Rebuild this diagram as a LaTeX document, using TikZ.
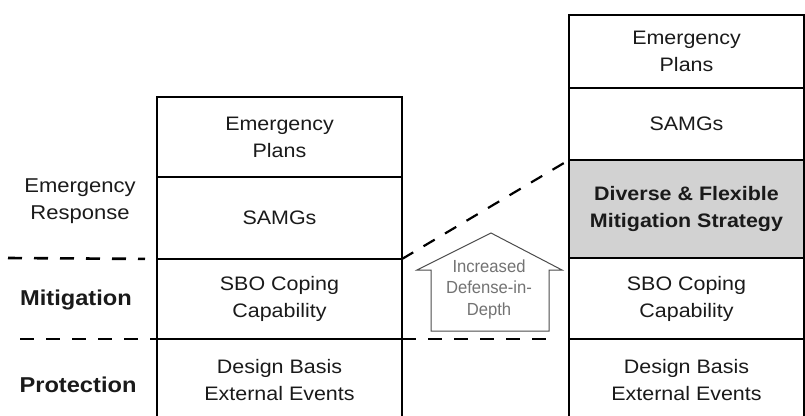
\documentclass[tikz,border=0pt]{standalone}
\usepackage{fontspec}
\setmainfont{Liberation Sans}[FakeStretch=1.1]
\newfontfamily\housefont{Liberation Sans}[FakeStretch=0.95]
\definecolor{inkc}{HTML}{1A1A1A}
\definecolor{shade}{HTML}{D2D2D2}
\begin{document}
\begin{tikzpicture}[x=1pt,y=-1pt,
  layer/.style={draw=black, line width=1.1pt, inner sep=0pt, outer sep=0pt,
    align=center, text=inkc, font=\fontsize{19.5}{27}\selectfont},
  lcol/.style={layer, minimum width=245pt},
  rcol/.style={layer, minimum width=235pt},
  tier/.style={align=center, text=inkc},
  sepline/.style={draw=black, line width=2.6pt, dash pattern=on 14pt off 12pt},
  slantline/.style={draw=black, line width=2.2pt, dash pattern=on 13pt off 12pt},
  house/.style={draw=black!70, line width=1pt, fill=white}]
\useasboundingbox (0,0) rectangle (805,415);
\clip (0,0) rectangle (805,415);

% left column: current layers
\node[lcol, minimum height=80pt] (lplans)  at (279.5,137) {Emergency\\Plans};
\node[lcol, minimum height=82pt] (lsamg)   at (279.5,218) {SAMGs};
\node[lcol, minimum height=80pt] (lsbo)    at (279.5,299) {SBO Coping\\Capability};
\node[lcol, minimum height=82pt] (ldesign) at (279.5,380) {Design Basis\\External Events};

% right column: layers with the added strategy
\node[rcol, minimum height=73pt] (rplans)   at (686.5,51.5) {Emergency\\Plans};
\node[rcol, minimum height=72pt] (rsamg)    at (686.5,124) {SAMGs};
\node[rcol, minimum height=98pt, fill=shade, font=\fontsize{19.5}{27}\selectfont\bfseries]
      (rdiverse) at (686.5,209) {Diverse \& Flexible\\Mitigation Strategy};
\node[rcol, minimum height=81pt] (rsbo)     at (686.5,298.5) {SBO Coping\\Capability};
\node[rcol, minimum height=82pt] (rdesign)  at (686.5,380) {Design Basis\\External Events};

% tier labels
\node[tier, font=\fontsize{20}{27}\selectfont] (terr) at (80,201) {Emergency\\Response};
\node[tier, font=\fontsize{21.5}{27}\selectfont\bfseries] (tmit) at (76,300) {Mitigation};
\node[tier, font=\fontsize{21.5}{27}\selectfont\bfseries] (tpro) at (78,385) {Protection};

% tier boundaries
\coordinate (erL) at (8,258);
\coordinate (mpL) at (20,339);
\coordinate (mpR) at (557,339);
\draw[sepline, shorten >=12pt] (erL) -- (lsamg.south west);
\draw[sepline] (mpL) -- (lsbo.south west);
\draw[sepline] (lsbo.south east) -- (mpR);
\draw[slantline] (lsamg.south east) -- (rdiverse.north west);

% upward arrow
\draw[house] (431,331) -- (431,270) -- (417,270) -- (491,233) -- (562,270)
  -- (549,270) -- (549,331) -- cycle;
\node[align=center, text=black!55, font=\housefont\fontsize{17.5}{21.5}\selectfont]
  (idd) at (489,289) {Increased\\Defense-in-\\Depth};
\end{tikzpicture}
\end{document}
